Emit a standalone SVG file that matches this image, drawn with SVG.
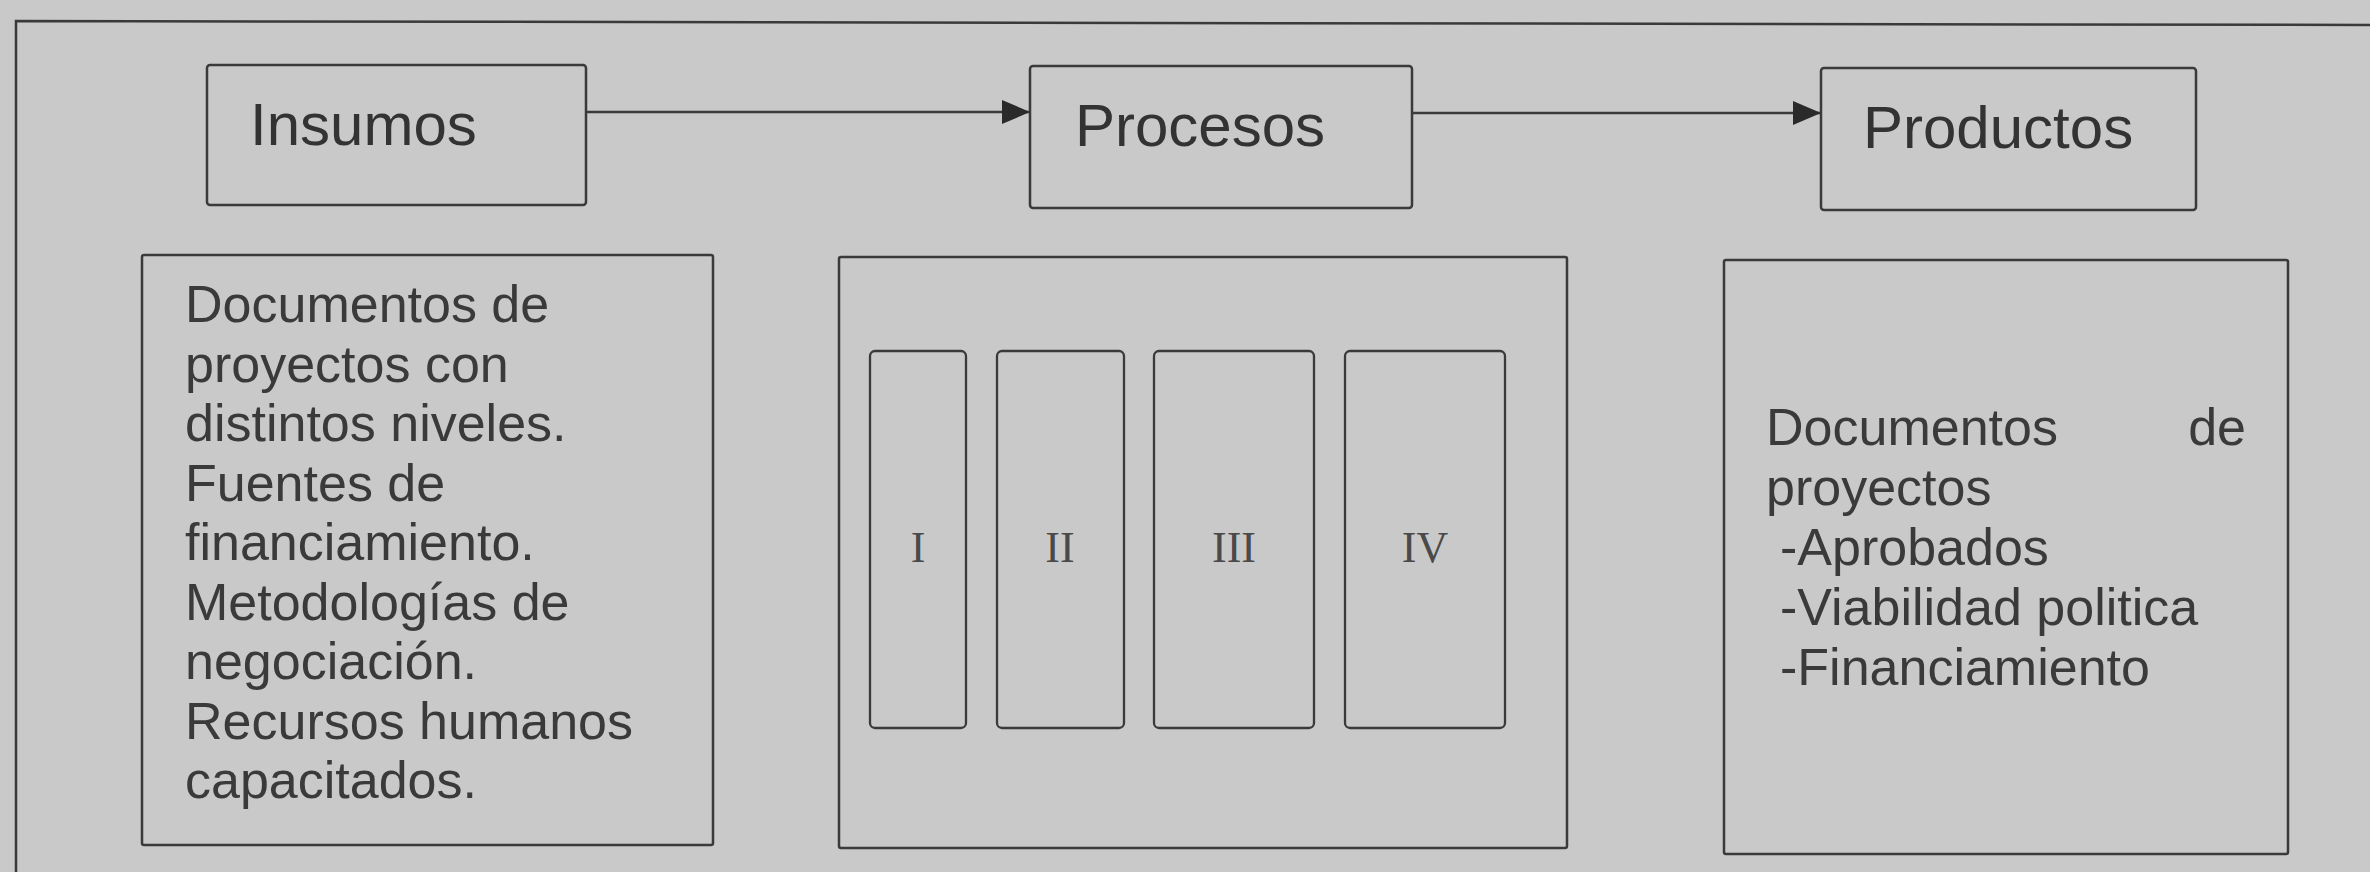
<svg xmlns="http://www.w3.org/2000/svg" width="2370" height="872" viewBox="0 0 2370 872">
  <defs>
    <style>
      .box { fill: none; stroke: #3a3a3a; stroke-width: 2.5; }
      .sub { fill: none; stroke: #3a3a3a; stroke-width: 2.3; }
      .edge { fill: none; stroke: #3a3a3a; stroke-width: 2.5; }
      .title { font-family: "Liberation Sans", Arial, sans-serif; font-size: 60px; fill: #333; }
      .body { font-family: "Liberation Sans", Arial, sans-serif; font-size: 52px; fill: #3a3a3a; }
      .roman { font-family: "Liberation Serif", "Times New Roman", serif; font-size: 44px; fill: #4a4a4a; text-anchor: middle; }
    </style>
    <marker id="arrow" viewBox="0 0 28 24" refX="27" refY="12" markerWidth="28" markerHeight="24" markerUnits="userSpaceOnUse" orient="auto">
      <path d="M0,0 L28,12 L0,24 Z" fill="#2a2a2a"/>
    </marker>
  </defs>

  <!-- paper -->
  <rect x="0" y="0" width="2370" height="872" fill="#c9c9c9"/>

  <!-- outer frame (open to the right and bottom) -->
  <polyline class="box" points="16,872 16,21 2370,25"/>

  <!-- connectors -->
  <g id="connectors">
    <line class="edge" x1="586" y1="112" x2="1029" y2="112" marker-end="url(#arrow)"/>
    <line class="edge" x1="1412" y1="113" x2="1820" y2="113" marker-end="url(#arrow)"/>
  </g>

  <!-- Insumos -->
  <g id="insumos">
    <rect class="box" x="207" y="65" width="379" height="140" rx="3"/>
    <text class="title" x="250" y="145">Insumos</text>
  </g>
  <g id="insumos-detalle">
    <rect class="box" x="142" y="255" width="571" height="590" rx="2"/>
    <text class="body" x="185" y="322">Documentos de</text>
    <text class="body" x="185" y="381.5">proyectos con</text>
    <text class="body" x="185" y="441">distintos niveles.</text>
    <text class="body" x="185" y="500.5">Fuentes de</text>
    <text class="body" x="185" y="560">financiamiento.</text>
    <text class="body" x="185" y="619.5">Metodologías de</text>
    <text class="body" x="185" y="679">negociación.</text>
    <text class="body" x="185" y="738.5">Recursos humanos</text>
    <text class="body" x="185" y="798">capacitados.</text>
  </g>

  <!-- Procesos -->
  <g id="procesos">
    <rect class="box" x="1030" y="66" width="382" height="142" rx="3"/>
    <text class="title" x="1075" y="146">Procesos</text>
  </g>
  <g id="procesos-detalle">
    <rect class="box" x="839" y="257" width="728" height="591" rx="2"/>
    <g id="fase-1">
      <rect class="sub" x="870" y="351" width="96" height="377" rx="5"/>
      <text class="roman" x="918" y="562">I</text>
    </g>
    <g id="fase-2">
      <rect class="sub" x="997" y="351" width="127" height="377" rx="5"/>
      <text class="roman" x="1060" y="562">II</text>
    </g>
    <g id="fase-3">
      <rect class="sub" x="1154" y="351" width="160" height="377" rx="5"/>
      <text class="roman" x="1234" y="562">III</text>
    </g>
    <g id="fase-4">
      <rect class="sub" x="1345" y="351" width="160" height="377" rx="5"/>
      <text class="roman" x="1425" y="562">IV</text>
    </g>
  </g>

  <!-- Productos -->
  <g id="productos">
    <rect class="box" x="1821" y="68" width="375" height="142" rx="3"/>
    <text class="title" x="1863" y="148">Productos</text>
  </g>
  <g id="productos-detalle">
    <rect class="box" x="1724" y="260" width="564" height="594" rx="2"/>
    <text class="body" x="1766" y="445">Documentos</text>
    <text class="body" x="2246" y="445" text-anchor="end">de</text>
    <text class="body" x="1766" y="505">proyectos</text>
    <text class="body" x="1780" y="565">-Aprobados</text>
    <text class="body" x="1780" y="625">-Viabilidad politica</text>
    <text class="body" x="1780" y="685">-Financiamiento</text>
  </g>
</svg>
